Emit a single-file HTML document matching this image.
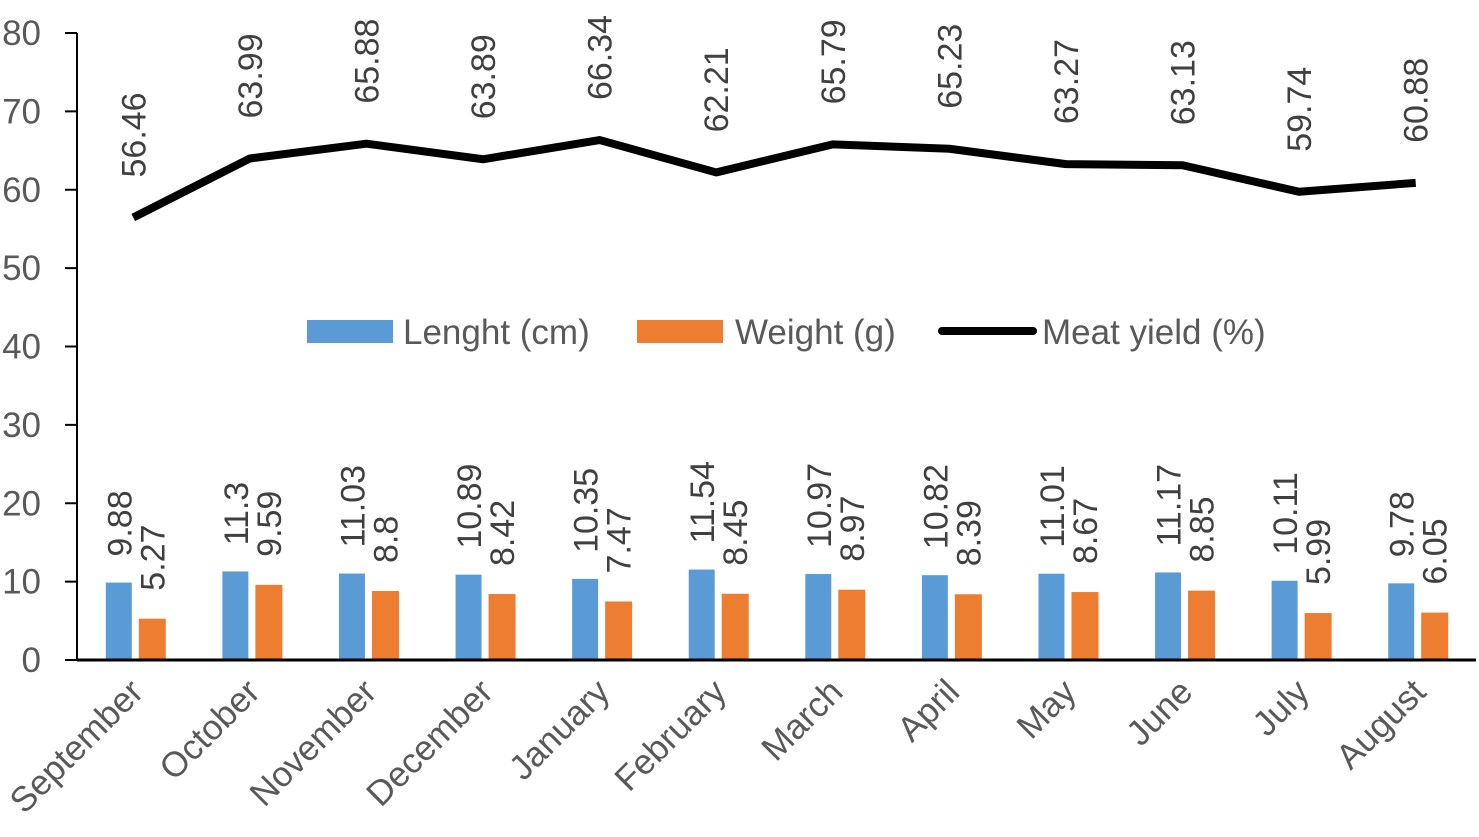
<!DOCTYPE html>
<html><head><meta charset="utf-8"><style>
html,body{margin:0;padding:0;background:#fff;}
svg{display:block;font-family:"Liberation Sans",sans-serif;}
</style></head><body>
<svg id="chart" width="1479" height="837"></svg>
<script>
const months=["September","October","November","December","January","February","March","April","May","June","July","August"];
const lengths=[9.88,11.3,11.03,10.89,10.35,11.54,10.97,10.82,11.01,11.17,10.11,9.78];
const weights=[5.27,9.59,8.8,8.42,7.47,8.45,8.97,8.39,8.67,8.85,5.99,6.05];
const yields=[56.46,63.99,65.88,63.89,66.34,62.21,65.79,65.23,63.27,63.13,59.74,60.88];
const yTicks=[0,10,20,30,40,50,60,70,80];

const svg=document.getElementById('chart');
const NS='http://www.w3.org/2000/svg';
const X0=77,X1=1476,Y0=660,Y80=33;
const bw=(X1-X0)/months.length;
const y=v=>Y0-v*(Y0-Y80)/80;
const cx=i=>X0+bw*(i+0.5);
function mk(t,a,p){const e=document.createElementNS(NS,t);for(const k in a)e.setAttribute(k,a[k]);(p||svg).appendChild(e);return e;}

yTicks.forEach(v=>{
  const t=mk('line',{x1:65,x2:X0,y1:y(v),y2:y(v),stroke:'#000','stroke-width':2});
  
  
  const l=mk('text',{x:41,y:y(v)+12,'text-anchor':'end','font-size':35,fill:'#595959'});
  l.textContent=v;
  
  
});

months.forEach((m,i)=>{
  const c=cx(i);
  const hb=Y0-y(lengths[i]);
  const b=mk('rect',{x:c-29.5,y:y(lengths[i]),width:26,height:hb,fill:'#5B9BD5'});
  
  
  const o=mk('rect',{x:c+3.5,y:y(weights[i]),width:27,height:Y0-y(weights[i]),fill:'#ED7D31'});
  
  
  const lx=c-16+12, ly=y(lengths[i])-26;
  const lt=mk('text',{x:lx,y:ly,'font-size':34,fill:'#404040',transform:`rotate(-90 ${lx} ${ly})`});
  lt.textContent=lengths[i];
  
  
  const ox=c+17+12, oy=y(weights[i])-28;
  const ot=mk('text',{x:ox,y:oy,'font-size':34,fill:'#404040',transform:`rotate(-90 ${ox} ${oy})`});
  ot.textContent=weights[i];
  
  
  const yx=c+10, yy=y(yields[i])-40;
  const yt=mk('text',{x:yx,y:yy,'font-size':34,fill:'#404040',transform:`rotate(-90 ${yx} ${yy})`});
  yt.textContent=yields[i];
  
  
  const ax=c+10, ay=694;
  const xl=mk('text',{x:ax,y:ay,'text-anchor':'end','font-size':35,fill:'#595959',transform:`rotate(-45 ${ax} ${ay})`});
  xl.textContent=m;
  
  
});

const pl=mk('polyline',{points:yields.map((v,i)=>(cx(i)-2)+','+y(v)).join(' '),fill:'none',stroke:'#000','stroke-width':8,'stroke-linejoin':'round'});



const ya=mk('line',{x1:X0,x2:X0,y1:Y80,y2:Y0+1,stroke:'#000','stroke-width':2});


const xa=mk('line',{x1:X0,x2:X1,y1:Y0,y2:Y0,stroke:'#000','stroke-width':3});



const lg=mk('g',{});


const s1=mk('rect',{x:307,y:320,width:86,height:23,fill:'#5B9BD5'},lg);


const t1=mk('text',{x:403,y:344,'font-size':35,fill:'#595959'},lg);t1.textContent='Lenght (cm)';


const s2=mk('rect',{x:637,y:320,width:86,height:23,fill:'#ED7D31'},lg);


const t2=mk('text',{x:735,y:344,'font-size':35,fill:'#595959'},lg);t2.textContent='Weight (g)';


const s3=mk('line',{x1:942,x2:1033,y1:331,y2:331,stroke:'#000','stroke-width':8,'stroke-linecap':'round'},lg);


const t3=mk('text',{x:1042,y:344,'font-size':35,fill:'#595959'},lg);t3.textContent='Meat yield (%)';


</script>
</body></html>
